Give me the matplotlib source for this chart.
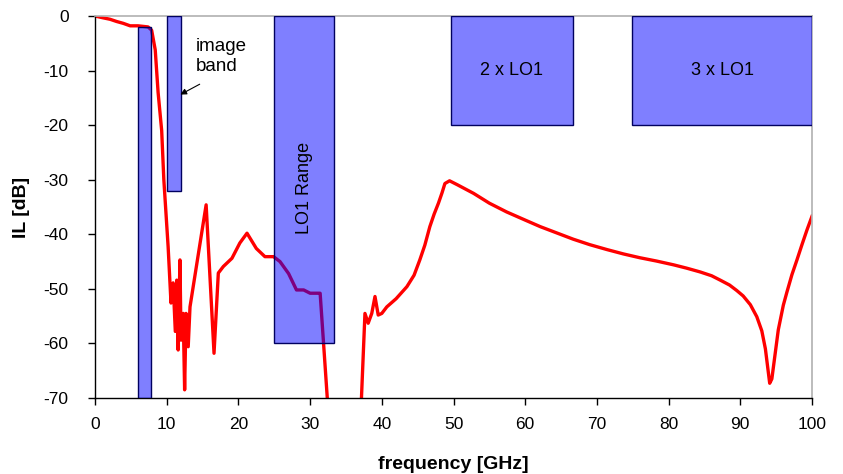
import numpy as np
import matplotlib
matplotlib.use("Agg")
import matplotlib.pyplot as plt
from matplotlib.patches import Rectangle

plt.rcParams['font.family'] = ['Liberation Sans', 'DejaVu Sans']
plt.rcParams['axes.unicode_minus'] = False

# Insertion loss of the filter (frequency in GHz, IL in dB); NaN marks where the trace leaves the plot
freq = [0.0, 1.0, 2.1, 3.0, 3.95, 4.9, 6.0, 7.4, 7.9, 8.4, 8.8, 9.3, 9.6, 10.2, 10.6, 10.9, 11.2, 11.4,
        11.6, 11.85, 12.0, 12.3, 12.5, 12.7, 13.0, 13.25, 15.5, 16.6, 17.2, 17.9, 19.1, 20.2,
        21.2, 22.5, 23.7, 24.9, 25.8, 27.0, 28.1, 29.1, 30.0, 31.1, 31.4, 32.5,
        34.8,
        37.1, 37.65, 38.1, 38.6, 39.05, 39.5, 40.0, 40.7, 42.0, 43.5, 44.5, 45.3, 46.0, 46.7,
        47.3, 47.9, 48.4, 48.8, 49.45,
        50.5, 52.8, 55.0, 57.4, 60.0, 62.1, 64.5, 66.7, 69.0, 71.4, 73.7, 76.0, 78.3, 80.7,
        82.5, 84.4, 86.0, 87.2, 88.5, 89.5, 90.4, 91.4, 92.3, 93.0, 93.5, 94.1, 94.4, 94.7,
        95.3, 96.0, 96.5, 97.2, 97.9, 98.6, 99.3, 100.0]
il = [0.0, -0.3, -0.6, -1.0, -1.35, -1.8, -1.8, -2.0, -2.6, -6.2, -14.0, -21.0, -30.0, -42.3, -52.6, -48.9, -57.8, -48.4,
      -61.2, -44.7, -59.4, -54.5, -68.5, -54.5, -60.6, -53.3, -34.6, -61.8, -47.1, -45.9, -44.4, -41.6,
      -39.8, -42.6, -44.1, -44.1, -45.0, -47.2, -50.2, -50.2, -50.8, -50.8, -50.8, -72.0,
      np.nan,
      -72.0, -54.5, -56.3, -54.5, -51.4, -54.8, -54.5, -53.3, -51.8, -49.6, -47.5, -44.7, -42.0, -38.6,
      -36.3, -34.3, -32.4, -30.7, -30.2,
      -30.9, -32.5, -34.3, -35.9, -37.4, -38.6, -39.8, -40.9, -41.9, -42.8, -43.6, -44.3, -44.9, -45.6,
      -46.2, -46.9, -47.6, -48.4, -49.3, -50.3, -51.3, -52.9, -55.1, -57.7, -61.0, -67.3, -66.5, -63.5,
      -57.5, -53.0, -50.6, -47.4, -44.7, -41.9, -39.2, -36.7]

# Frequency bands: (start GHz, end GHz, lowest IL dB, upper IL dB)
band_start = [6.0, 10.0, 25.0, 49.6, 74.9]
band_end = [7.8, 12.0, 33.3, 66.7, 100.0]
band_floor = [-70.0, -32.0, -60.0, -20.0, -20.0]
band_top = [-2.0, 0.0, 0.0, 0.0, 0.0]

x_ticks = list(range(0, 101, 10))
y_ticks = list(range(-70, 1, 10))

fig = plt.figure(figsize=(8.43, 4.74), dpi=100)
ax = fig.add_axes([95 / 843, 76 / 474, 717 / 843, 382 / 474])

ax.plot(freq, il, color='#ff0000', lw=2.4, zorder=2, solid_joinstyle='round')

for x0, x1, y0, y1 in zip(band_start, band_end, band_floor, band_top):
    ax.add_patch(Rectangle((x0, y0), x1 - x0, y1 - y0, facecolor=(0, 0, 1, 0.5),
                           edgecolor='#000060', lw=1.0, zorder=3))

ax.text((band_start[2] + band_end[2]) / 2, -31.5, 'LO1 Range', rotation=90,
        ha='center', va='center', fontsize=13, zorder=4)
ax.text((band_start[3] + band_end[3]) / 2, -10, '2 x LO1', ha='center', va='center',
        fontsize=13, zorder=4)
ax.text((band_start[4] + band_end[4]) / 2, -10, '3 x LO1', ha='center', va='center',
        fontsize=13, zorder=4)
ax.text(14.1, -7.4, 'image\nband', ha='left', va='center', fontsize=13.5,
        linespacing=1.25, zorder=4)
ax.annotate('', xy=(11.9, -14.4), xytext=(14.6, -12.5),
            arrowprops=dict(arrowstyle='-|>', color='black', lw=0.8,
                            mutation_scale=9, shrinkA=0, shrinkB=0), zorder=4)

ax.set_xlim(0, 100)
ax.set_ylim(-70, 0)
ax.set_xticks(x_ticks)
ax.set_yticks(y_ticks)
ax.tick_params(direction='out', length=5, width=1, labelsize=12.5, colors='black')
ax.tick_params(axis='x', pad=9)
ax.tick_params(axis='y', pad=14)

for side in ('left', 'bottom'):
    ax.spines[side].set_color('black')
    ax.spines[side].set_linewidth(1.0)
for side in ('top', 'right'):
    ax.spines[side].set_color('#b0b0b0')
    ax.spines[side].set_linewidth(1.2)

ax.set_xlabel('frequency [GHz]', fontsize=14, fontweight='bold', labelpad=17)
ax.set_ylabel('IL [dB]', fontsize=14, fontweight='bold', labelpad=10)

fig.savefig('out.png', dpi=100, facecolor='white')
